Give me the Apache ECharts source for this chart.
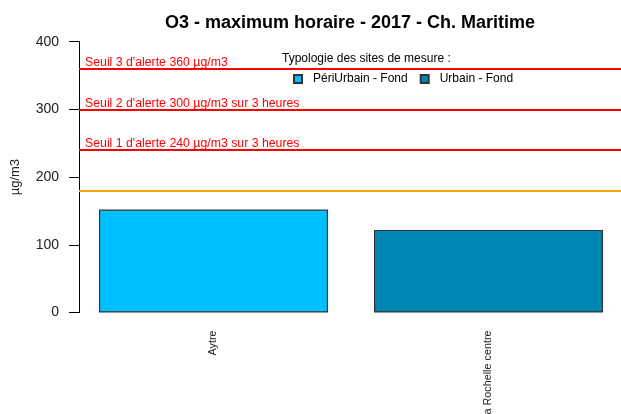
<!DOCTYPE html>
<html>
<head>
<meta charset="utf-8">
<script src="https://cdn.jsdelivr.net/npm/echarts@6/dist/echarts.min.js"></script>
<style>
  html, body { margin: 0; padding: 0; background: #ffffff; }
  #chart { width: 621px; height: 414px; }
</style>
</head>
<body>
<div id="chart"></div>
<script>
// Measuring sites and their typology
const categories = ['Aytre', 'La Rochelle centre'];
const typologies = ['PériUrbain - Fond', 'Urbain - Fond'];
// Hourly maximum of O3 (µg/m3) per site, one array per typology
const periUrbainValues = [152, '-'];
const urbainValues = ['-', 122];
// Regulatory thresholds
const alertThresholds = [360, 300, 240];
const alertLabels = [
  "Seuil 3 d'alerte 360 µg/m3",
  "Seuil 2 d'alerte 300 µg/m3 sur 3 heures",
  "Seuil 1 d'alerte 240 µg/m3 sur 3 heures"
];
const infoThreshold = 180;
// Y axis scale
const yMin = 0, yMax = 400, yInterval = 100;

const FONT = 'Liberation Sans, Arial, sans-serif';
const colors = ['#00BFFF', '#0086B3'];

const chart = echarts.init(document.getElementById('chart'), null, { renderer: 'canvas' });

const plotTop = 41.7, plotBottom = 101.5;

chart.setOption({
  animation: false,
  backgroundColor: '#ffffff',
  title: [
    {
      text: 'O3 - maximum horaire - 2017 - Ch. Maritime',
      left: 350, top: 14, textAlign: 'center', padding: 0,
      textStyle: { fontFamily: FONT, fontSize: 18, fontWeight: 'bold', color: '#000' }
    },
    {
      text: 'Typologie des sites de mesure :',
      left: 282, top: 53, padding: 0,
      textStyle: { fontFamily: FONT, fontSize: 12, fontWeight: 'normal', color: '#000' }
    }
  ],
  legend: {
    data: typologies,
    left: 293, top: 73, padding: 0,
    itemWidth: 8, itemHeight: 8, itemGap: 12,
    icon: 'rect',
    textStyle: { fontFamily: FONT, fontSize: 12, color: '#000', padding: [0, 0, 0, 6] }
  },
  grid: [
    { left: 76, width: 550, top: plotTop, bottom: plotBottom, outerBoundsMode: 'none' },
    { left: 79, right: 0, top: plotTop, bottom: plotBottom, outerBoundsMode: 'none' }
  ],
  xAxis: [
    {
      type: 'category', gridIndex: 0, data: categories,
      axisLine: { show: false }, axisTick: { show: false },
      axisLabel: { rotate: 90, margin: 18, fontFamily: FONT, fontSize: 10.8, color: '#222' }
    },
    { type: 'value', gridIndex: 1, min: 0, max: 1, show: false }
  ],
  yAxis: [
    {
      type: 'value', gridIndex: 0, min: yMin, max: yMax, interval: yInterval,
      offset: -3,
      name: 'µg/m3', nameLocation: 'middle', nameGap: 57, nameRotate: 90,
      nameTextStyle: { fontFamily: FONT, fontSize: 13, color: '#222' },
      axisLine: { show: true, lineStyle: { color: '#000', width: 1 } },
      axisTick: { show: true, length: 10, lineStyle: { color: '#000' } },
      axisLabel: { margin: 20, fontFamily: FONT, fontSize: 14, color: '#222' },
      splitLine: { show: false }
    },
    { type: 'value', gridIndex: 1, min: yMin, max: yMax, show: false }
  ],
  series: [
    {
      name: typologies[0], type: 'bar', xAxisIndex: 0, yAxisIndex: 0,
      data: periUrbainValues,
      barGap: '-100%', barCategoryGap: '16.7%',
      itemStyle: { color: colors[0], borderColor: '#333', borderWidth: 1.2 }
    },
    {
      name: typologies[1], type: 'bar', xAxisIndex: 0, yAxisIndex: 0,
      data: urbainValues,
      barGap: '-100%', barCategoryGap: '16.7%',
      itemStyle: { color: colors[1], borderColor: '#333', borderWidth: 1.2 }
    },
    {
      name: 'seuils', type: 'line', xAxisIndex: 1, yAxisIndex: 1,
      data: [], showSymbol: false, silent: true,
      markLine: {
        silent: true, symbol: 'none', animation: false,
        data: alertThresholds.map((v, i) => ({
          yAxis: v,
          lineStyle: { color: '#FF0000', width: 2, type: 'solid' },
          label: {
            show: true, position: 'insideStartTop', formatter: alertLabels[i],
            distance: [6, 0],
            fontFamily: FONT, fontSize: 12.3, color: '#FF0000'
          }
        })).concat([{
          yAxis: infoThreshold,
          lineStyle: { color: '#FFA500', width: 2, type: 'solid' },
          label: { show: false }
        }])
      }
    }
  ]
});
</script>
</body>
</html>
